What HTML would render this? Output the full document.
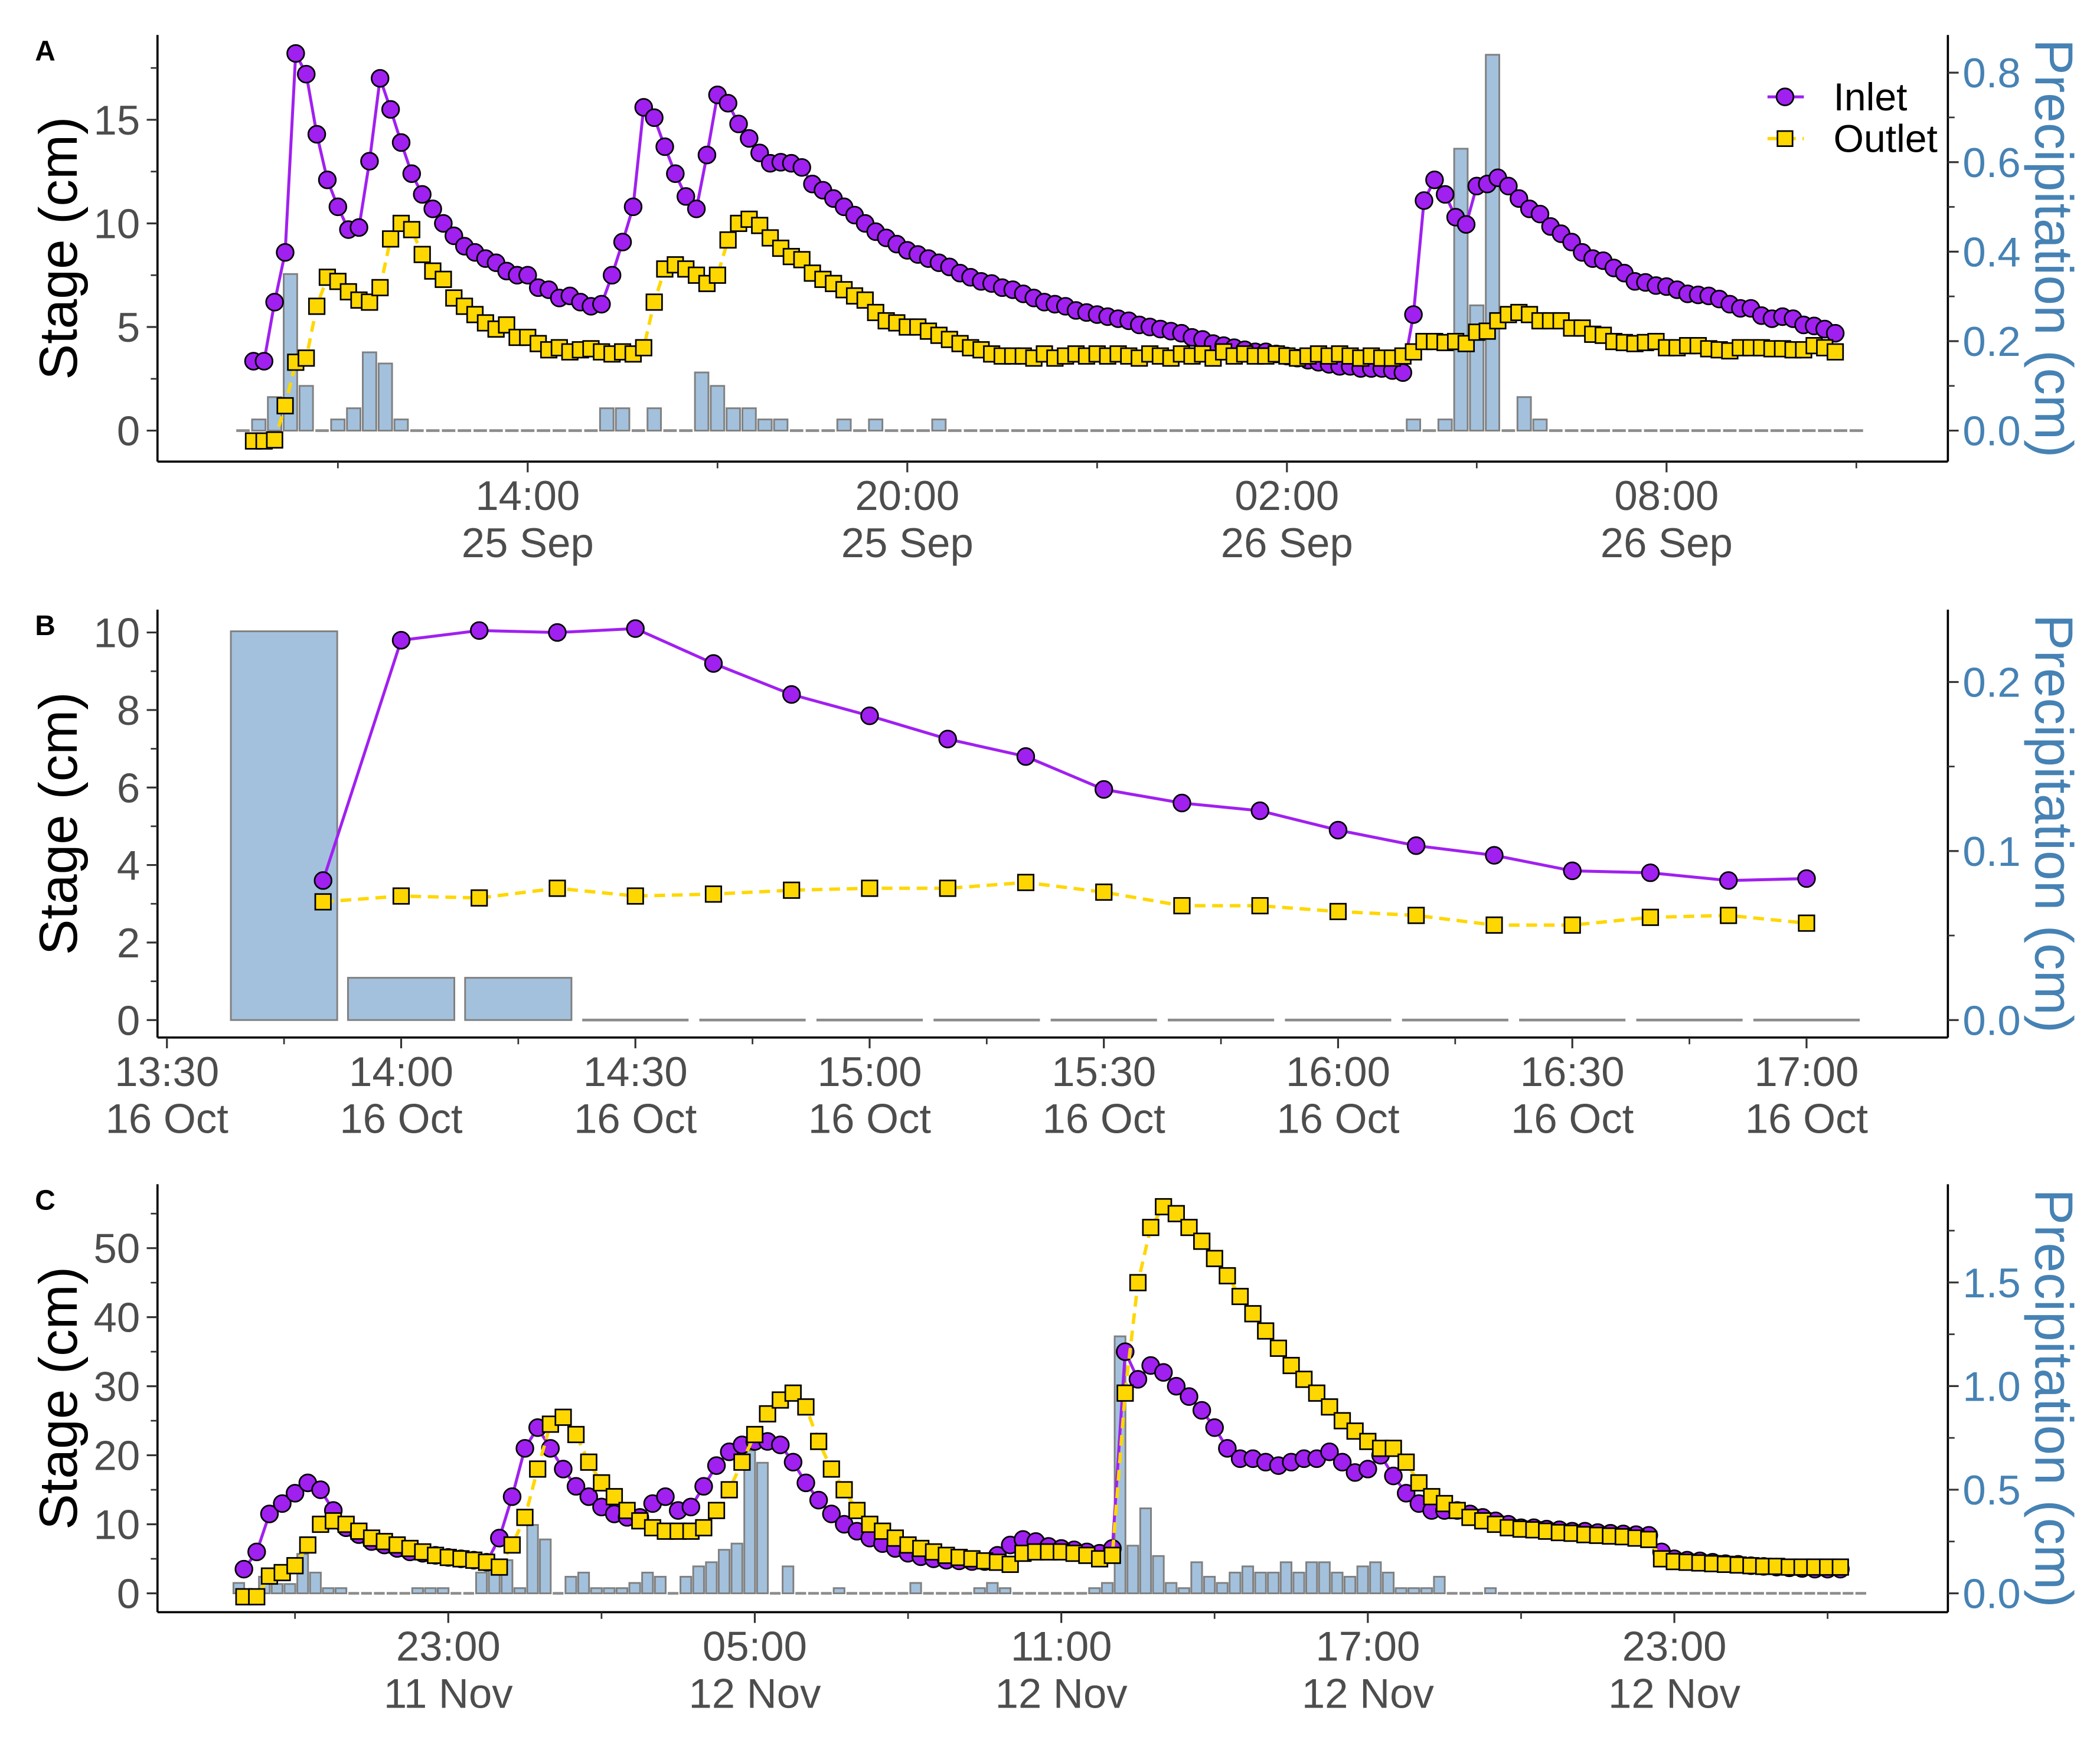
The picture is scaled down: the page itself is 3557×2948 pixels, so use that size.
<!DOCTYPE html>
<html><head><meta charset="utf-8"><title>Stage and precipitation</title>
<style>html,body{margin:0;padding:0;background:#fff}svg{display:block}text{font-family:"Liberation Sans",Arial,sans-serif}</style>
</head><body>
<svg id="chart" xmlns="http://www.w3.org/2000/svg" width="3557" height="2948" viewBox="0 0 1560 1293" preserveAspectRatio="none"></svg>
<script>
// ---------- Panel A data (25-26 Sep, 10-min stage, 15-min precipitation) ----------
const aInlet=[3.35,3.35,6.2,8.6,18.2,17.2,14.3,12.1,10.8,9.7,9.8,13.0,17.0,15.5,13.9,12.4,11.4,10.7,10.0,9.4,8.9,8.6,8.3,8.1,7.7,7.5,7.5,6.9,6.8,6.4,6.5,6.2,6.0,6.1,7.5,9.1,10.8,15.6,15.1,13.7,12.4,11.3,10.7,13.3,16.2,15.8,14.8,14.1,13.4,12.9,12.95,12.9,12.7,
11.9,11.6,11.2,10.8,10.4,10.0,9.6,9.3,9.0,8.7,8.5,8.3,8.1,7.9,7.6,7.4,7.2,7.1,6.9,6.8,6.6,6.4,6.2,6.1,6.0,5.8,5.7,5.6,5.5,5.4,5.3,5.1,5.0,4.9,4.8,4.7,4.5,4.4,4.2,4.1,4.0,3.9,3.8,3.8,3.7,3.6,3.5,3.4,3.3,3.2,3.1,3.1,3.0,3.0,3.0,2.9,2.8,
5.6,11.1,12.1,11.4,10.3,9.95,11.8,11.9,12.2,11.8,11.2,10.7,10.45,9.85,9.5,9.1,8.6,8.3,8.2,7.85,7.6,7.2,7.15,7.0,6.95,6.8,6.6,6.55,6.5,6.35,6.1,5.9,5.9,5.55,5.4,5.5,5.4,5.1,5.05,4.9,4.7];
const aOutlet=[-0.5,-0.5,-0.45,1.2,3.3,3.5,6.0,7.4,7.2,6.7,6.3,6.2,6.9,9.25,10.0,9.7,8.5,7.7,7.3,6.4,6.0,5.6,5.2,4.9,5.1,4.5,4.5,4.2,3.9,4.0,3.8,3.9,3.95,3.8,3.7,3.8,3.7,4.0,6.2,7.8,8.0,7.8,7.5,7.1,7.5,9.2,10.0,10.2,9.9,9.3,8.8,8.4,8.25,
7.6,7.3,7.1,6.8,6.5,6.3,5.7,5.3,5.2,5.0,5.0,4.8,4.6,4.4,4.2,4.0,3.9,3.7,3.6,3.6,3.6,3.5,3.7,3.5,3.6,3.7,3.6,3.7,3.6,3.7,3.6,3.5,3.7,3.6,3.5,3.7,3.6,3.7,3.5,3.8,3.6,3.7,3.6,3.6,3.7,3.6,3.5,3.6,3.7,3.6,3.7,3.6,3.5,3.6,3.5,3.5,3.6,
3.8,4.3,4.3,4.25,4.3,4.2,4.75,4.8,5.3,5.6,5.7,5.6,5.3,5.3,5.3,4.95,4.95,4.65,4.6,4.3,4.25,4.2,4.25,4.3,4.0,4.0,4.1,4.1,3.95,3.9,3.85,4.0,4.0,4.0,3.95,3.95,3.9,3.9,4.1,4.0,3.8];
const aPrecip=[0,0.025,0.075,0.35,0.1,0,0.025,0.05,0.175,0.15,0.025,0,0,0,0,0,0,0,0,0,0,0,0,0.05,0.05,0,0.05,0,0,0.13,0.1,0.05,0.05,0.025,0.025,0,0,0,0.025,0,0.025,0,0,0,0.025,
0,0,0,0,0,0,0,0,0,0,0,0,0,0,0,0,0,0,0,0,0,0,0,0,0,0,0,0,0,0.025,0,0.025,0.63,0.28,0.84,0,0.075,0.025,0,0,0,0,0,0,0,0,0,0,0,0,0,0,0,0,0,0,0,0];
const aXTop=["14:00","20:00","02:00","08:00"];
const aXBottom=["25 Sep","25 Sep","26 Sep","26 Sep"];
const aYTicks=[0,5,10,15];
const aRTicks=["0.0","0.2","0.4","0.6","0.8"];

// ---------- Panel B data (16 Oct) ----------
const bInlet=[3.6,9.8,10.05,10.0,10.1,9.2,8.4,7.85,7.25,6.8,5.95,5.6,5.4,4.9,4.5,4.25,3.85,3.8,3.6,3.65];
const bOutlet=[3.05,3.2,3.15,3.4,3.2,3.25,3.35,3.4,3.4,3.55,3.3,2.95,2.95,2.8,2.7,2.45,2.45,2.65,2.7,2.5];
const bPrecip=[0.23,0.025,0.025,0,0,0,0,0,0,0,0,0,0,0];
const bXTop=["13:30","14:00","14:30","15:00","15:30","16:00","16:30","17:00"];
const bXBottom=["16 Oct","16 Oct","16 Oct","16 Oct","16 Oct","16 Oct","16 Oct","16 Oct"];
const bYTicks=[0,2,4,6,8,10];
const bRTicks=["0.0","0.1","0.2"];

// ---------- Panel C data (11-13 Nov, 15-min) ----------
const cInlet=[3.5,6,11.5,13,14.5,16,15,12,9.5,8.5,7.5,7,6.5,6,5.8,5.5,5.2,5.0,4.8,4.5,8,14,21,24,21,18,15.5,14,12.5,11.5,11,11,13,14,12,12.5,15.5,18.5,20.5,21.5,22,22,21.5,19,16,13.5,11.5,10,9,8,7.2,6.5,5.8,5.3,5,4.8,4.7,4.6,4.6,5.5,7,7.8,7.5,6.8,6.5,6.3,6.0,5.8,6.5,35,31,33,32,30,28.5,26.5,24,21,19.5,19.5,19,18.5,19,19.5,19.5,20.5,19,17.5,18,20,17,14.5,13,12,12,12,11.5,11,10.5,10,9.5,9.5,9.3,9.2,9.0,9.0,8.8,8.7,8.6,8.5,8.4,6,5,4.8,4.7,4.5,4.3,4.2,4.0,3.9,3.8,3.7,3.6,3.5,3.5,3.5];
const cOutlet=[-0.5,-0.5,2.5,3,4,7,10,10.5,10,9,8,7.5,7,6.5,6,5.5,5.2,5,4.8,4.5,3.8,7,11,18,24.5,25.5,23,19,16,14,12,10.5,9.5,9,9,9,9.5,12,15,19,23,26,28,29,27,22,18,15,12,10,9,8,7,6.5,6,5.5,5.2,5,4.7,4.5,4.2,5.8,6,6,6,5.8,5.5,5.0,5.5,29,45,53,56,55,53,51,48.5,46,43,40.5,38,35.5,33,31,29,27,25,23.5,22,21,21,19,16,14,13,12,11,10.5,10,9.5,9.3,9.2,9,8.8,8.7,8.5,8.4,8.3,8.2,8.0,7.8,5,4.6,4.5,4.4,4.3,4.2,4.1,4.0,3.9,3.9,3.8,3.8,3.8,3.8,3.8];
const cPrecip=[0.05,0.02,0.08,0.045,0.045,0.19,0.1,0.025,0.025,0,0,0,0,0,0.025,0.025,0.025,0,0,0.1,0.14,0.16,0.025,0.33,0.26,0,0.08,0.1,0.025,0.025,0.025,0.05,0.1,0.08,0,0.08,0.13,0.15,0.21,0.24,0.69,0.63,0,0.13,0,0,0,0.025,0,0,0,0,0,0.05,0,0,0,0,0.025,0.05,0.025,0,0,0,0,0,0,0.025,0.05,1.24,0.23,0.41,0.18,0.05,0.025,0.15,0.08,0.05,0.1,0.13,0.1,0.1,0.15,0.1,0.15,0.15,0.1,0.08,0.13,0.15,0.1,0.025,0.025,0.025,0.08,0,0,0,0.025,0,0,0,0,0,0,0,0,0,0,0,0,0,0,0,0,0,0,0,0,0,0,0,0,0,0,0,0,0];
const cXTop=["23:00","05:00","11:00","17:00","23:00"];
const cXBottom=["11 Nov","12 Nov","12 Nov","12 Nov","12 Nov"];
const cYTicks=[0,10,20,30,40,50];
const cRTicks=["0.0","0.5","1.0","1.5"];

const NS="http://www.w3.org/2000/svg";
const svg=document.getElementById("chart");
function mk(tag,attrs,parent){const e=document.createElementNS(NS,tag);for(const k in attrs)e.setAttribute(k,attrs[k]);(parent||svg).appendChild(e);return e;}
function txt(s,attrs,parent){const e=mk("text",attrs,parent);e.textContent=s;return e;}

const TICK="#333333",LAB="#4d4d4d",BLUE="#4682b4";

function panel(p){
  const g=mk("g",{});
  
  
  const bg=mk("g",{},g);
  
  
  p.precip.forEach((v,j)=>{
    const c=p.x(p.barT(j)),w=p.barW;
    if(v>0){
      const r=mk("rect",{x:c-w/2,y:p.yR(v),width:w,height:p.yR(0)-p.yR(v),fill:"#a3c1dc",stroke:"#808080","stroke-width":1.3},bg);
      
      
    }else{
      const l=mk("line",{x1:c-w/2,x2:c+w/2,y1:p.yR(0),y2:p.yR(0),stroke:"#8c8c8c","stroke-width":2},bg);
      
      
    }
  });
  const ptsI=p.inlet.map((v,i)=>[p.x(p.ptT(i)),p.yL(v)]);
  const ptsO=p.outlet.map((v,i)=>[p.x(p.ptT(i)),p.yL(v)]);
  const li=mk("polyline",{points:ptsI.map(q=>q.join(",")).join(" "),fill:"none",stroke:"#a020f0","stroke-width":2.2},g);
  
  
  const gi=mk("g",{},g);
  
  
  ptsI.forEach(q=>{const c=mk("circle",{cx:q[0],cy:q[1],r:6.3,fill:"#a020f0",stroke:"#000","stroke-width":1.2},gi);
    
    });
  const lo=mk("polyline",{points:ptsO.map(q=>q.join(",")).join(" "),fill:"none",stroke:"#ffd700","stroke-width":2.5,"stroke-dasharray":"8 5"},g);
  
  
  const go=mk("g",{},g);
  
  
  ptsO.forEach(q=>{const s=mk("rect",{x:q[0]-5.8,y:q[1]-5.8,width:11.6,height:11.6,fill:"#ffd700",stroke:"#000","stroke-width":1.2},go);
    
    });
  const ax=mk("g",{stroke:"#000","stroke-width":1.6},g);
  
  
  mk("line",{x1:117,x2:117,y1:p.top,y2:p.bot},ax);
  mk("line",{x1:1447,x2:1447,y1:p.top,y2:p.bot},ax);
  mk("line",{x1:117,x2:1447,y1:p.bot,y2:p.bot},ax);
  p.yTicks.forEach((v,k)=>{
    const y=p.yL(v);
    mk("line",{x1:109,x2:117,y1:y,y2:y,stroke:TICK,"stroke-width":1.4},g);
    const t=txt(String(v),{x:104,y:y+11,"text-anchor":"end","font-size":31,fill:LAB},g);
    
    
  });
  p.yMinor.forEach(v=>{const y=p.yL(v);mk("line",{x1:112,x2:117,y1:y,y2:y,stroke:TICK,"stroke-width":1.2},g);});
  p.rTicks.forEach((s,k)=>{
    const y=p.yR(parseFloat(s));
    mk("line",{x1:1447,x2:1455,y1:y,y2:y,stroke:TICK,"stroke-width":1.4},g);
    const t=txt(s,{x:1458,y:y+11,"text-anchor":"start","font-size":31,fill:BLUE},g);
    
    
  });
  p.rMinor.forEach(v=>{const y=p.yR(v);mk("line",{x1:1447,x2:1452,y1:y,y2:y,stroke:TICK,"stroke-width":1.2},g);});
  p.xTop.forEach((s,k)=>{
    const x=p.xTickPos(k);
    mk("line",{x1:x,x2:x,y1:p.bot,y2:p.bot+8,stroke:TICK,"stroke-width":1.4},g);
    const t1=txt(s,{x:x,y:p.bot+36,"text-anchor":"middle","font-size":31,fill:LAB},g);
    
    
    const t2=txt(p.xBot[k],{x:x,y:p.bot+71,"text-anchor":"middle","font-size":31,fill:LAB},g);
    
    
  });
  p.xMinor.forEach(x=>{mk("line",{x1:x,x2:x,y1:p.bot,y2:p.bot+5,stroke:TICK,"stroke-width":1.2},g);});
  const cy=(p.top+p.bot)/2;
  const yt=txt("Stage (cm)",{x:0,y:0,transform:`translate(57,${cy}) rotate(-90)`,"text-anchor":"middle","font-size":40,fill:"#000"},g);
  
  
  const rt=txt("Precipitation (cm)",{x:0,y:0,transform:`translate(1512,${cy}) rotate(90)`,"text-anchor":"middle","font-size":40,fill:BLUE},g);
  
  
  const lt=txt(p.id,{x:26,y:p.top+19,"font-size":21,"font-weight":"bold",fill:"#000"},g);
  
  
}

const xA=h=>392+47*h, yLA=v=>320-15.4*v, yRA=p=>320-332.5*p;
panel({id:"A",top:26,bot:343,x:xA,yL:yLA,yR:yRA,inlet:aInlet,outlet:aOutlet,precip:aPrecip,
  ptT:i=>-13/3+i/6, barT:j=>-4.5+0.25*j, barW:10,
  yTicks:aYTicks,yMinor:[2.5,7.5,12.5,17.5],rTicks:aRTicks,rMinor:[0.1,0.3,0.5,0.7],
  xTop:aXTop,xBot:aXBottom,xTickPos:k=>xA(6*k),xMinor:[xA(-3),xA(3),xA(9),xA(15),xA(21)]});
const xB=m=>124+5.8*m, yLB=v=>758-28.8*v, yRB=p=>758-1256*p;
panel({id:"B",top:453,bot:771,x:xB,yL:yLB,yR:yRB,inlet:bInlet,outlet:bOutlet,precip:bPrecip,
  ptT:i=>20+10*i, barT:j=>15+15*j, barW:79,
  yTicks:bYTicks,yMinor:[1,3,5,7,9],rTicks:bRTicks,rMinor:[0.05,0.15],
  xTop:bXTop,xBot:bXBottom,xTickPos:k=>xB(30*k),xMinor:[15,45,75,105,135,165,195].map(xB)});
const xC=h=>333+37.95*h, yLC=v=>1184-5.13*v, yRC=p=>1184-154*p;
panel({id:"C",top:880,bot:1198,x:xC,yL:yLC,yR:yRC,inlet:cInlet,outlet:cOutlet,precip:cPrecip,
  ptT:i=>-4+0.25*i, barT:j=>-4.1+0.25*j, barW:8,
  yTicks:cYTicks,yMinor:[5,15,25,35,45,55],rTicks:cRTicks,rMinor:[0.25,0.75,1.25,1.75],
  xTop:cXTop,xBot:cXBottom,xTickPos:k=>xC(6*k),xMinor:[-3,3,9,15,21,27].map(xC)});

const lg=mk("g",{});


mk("line",{x1:1313,x2:1340,y1:72,y2:72,stroke:"#a020f0","stroke-width":2.2},lg);
mk("circle",{cx:1326,cy:72,r:6.3,fill:"#a020f0",stroke:"#000","stroke-width":1.2},lg);
const l1=txt("Inlet",{x:1362,y:82,"font-size":29,fill:"#000"},lg);


mk("line",{x1:1313,x2:1340,y1:103,y2:103,stroke:"#ffd700","stroke-width":2.5,"stroke-dasharray":"8 5"},lg);
mk("rect",{x:1320.4,y:97.4,width:11.2,height:11.2,fill:"#ffd700",stroke:"#000","stroke-width":1.2},lg);
const l2=txt("Outlet",{x:1362,y:113,"font-size":29,fill:"#000"},lg);


</script>
</body></html>
